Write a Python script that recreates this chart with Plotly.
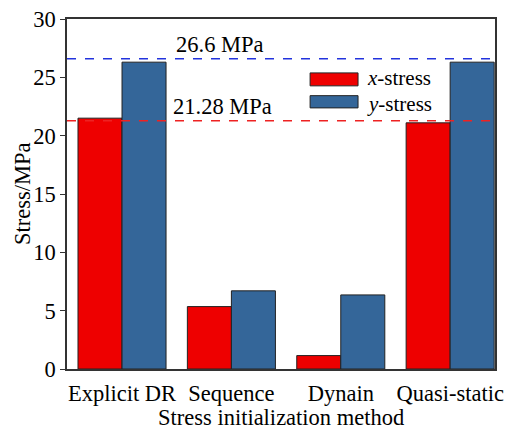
import plotly.graph_objects as go

categories = ["Explicit DR", "Sequence", "Dynain", "Quasi-static"]
x_stress = [21.5, 5.35, 1.15, 21.1]
y_stress = [26.3, 6.7, 6.35, 26.3]
ref_y = 26.6
ref_x = 21.28
ref_y_label = "26.6 MPa"
ref_x_label = "21.28 MPa"
y_ticks = [0, 5, 10, 15, 20, 25, 30]
x_title = "Stress initialization method"
y_title = "Stress/MPa"

RED = "#EE0000"
BLUE = "#346699"
FONT = "Liberation Serif"
FS = 22.5

fig = go.Figure()
fig.add_trace(go.Bar(x=categories, y=x_stress, name="x-stress", marker=dict(color=RED, line=dict(color="#222222", width=1)), showlegend=False))
fig.add_trace(go.Bar(x=categories, y=y_stress, name="y-stress", marker=dict(color=BLUE, line=dict(color="#222222", width=1)), showlegend=False))

fig.add_hline(y=ref_y, line=dict(color="#2233DD", width=1.5, dash="dash"))
fig.add_hline(y=ref_x, line=dict(color="#EE2222", width=1.5, dash="dash"))

fig.add_annotation(x=0.25, xref="paper", y=ref_y, yref="y", text=ref_y_label, showarrow=False,
                   xanchor="left", yanchor="bottom", yshift=0, font=dict(family=FONT, size=FS, color="black"))
fig.add_annotation(x=0.243, xref="paper", y=ref_x, yref="y", text=ref_x_label, showarrow=False,
                   xanchor="left", yanchor="bottom", yshift=0, font=dict(family=FONT, size=FS, color="black"))

# manual legend
legend_items = [("<i>x</i>-stress", RED, 0.809, 0.846, 0.832), ("<i>y</i>-stress", BLUE, 0.746, 0.781, 0.757)]
for label, col, y0, y1, ty in legend_items:
    fig.add_shape(type="rect", xref="paper", yref="paper", x0=0.568, x1=0.680, y0=y0, y1=y1,
                  fillcolor=col, line=dict(color="#222222", width=1))
    fig.add_annotation(x=0.698, xref="paper", y=ty, yref="paper", text=label, showarrow=False,
                       xanchor="left", yanchor="middle", borderpad=0,
                       font=dict(family=FONT, size=21, color="black"))

# axis titles
fig.add_annotation(x=0.5, xref="paper", y=-0.139, yref="paper", text=x_title, showarrow=False,
                   xanchor="center", yanchor="middle", borderpad=0,
                   font=dict(family=FONT, size=FS, color="black"))
fig.add_annotation(x=-0.105, xref="paper", y=0.5, yref="paper", text=y_title, showarrow=False, textangle=-90,
                   xanchor="center", yanchor="middle", font=dict(family=FONT, size=FS, color="black"))

fig.update_layout(
    width=508, height=432,
    margin=dict(l=67, r=13, t=19, b=63),
    barmode="group", bargap=0.195, bargroupgap=0,
    plot_bgcolor="white", paper_bgcolor="white",
    font=dict(family=FONT, size=FS, color="black"),
)
fig.update_xaxes(range=[-0.503, 3.41], showline=True, linecolor="#333333", linewidth=1.5, mirror=True,
                 ticks="", showgrid=False, tickfont=dict(size=FS), automargin=False, ticklabelstandoff=3)
fig.update_yaxes(range=[0, 30], tickvals=y_ticks, showline=True, linecolor="#333333", linewidth=1.5, mirror=True,
                 ticks="outside", ticklen=5, tickcolor="#333333", showgrid=False, zeroline=False,
                 tickfont=dict(size=FS), automargin=False)

fig.write_html("out.html")
